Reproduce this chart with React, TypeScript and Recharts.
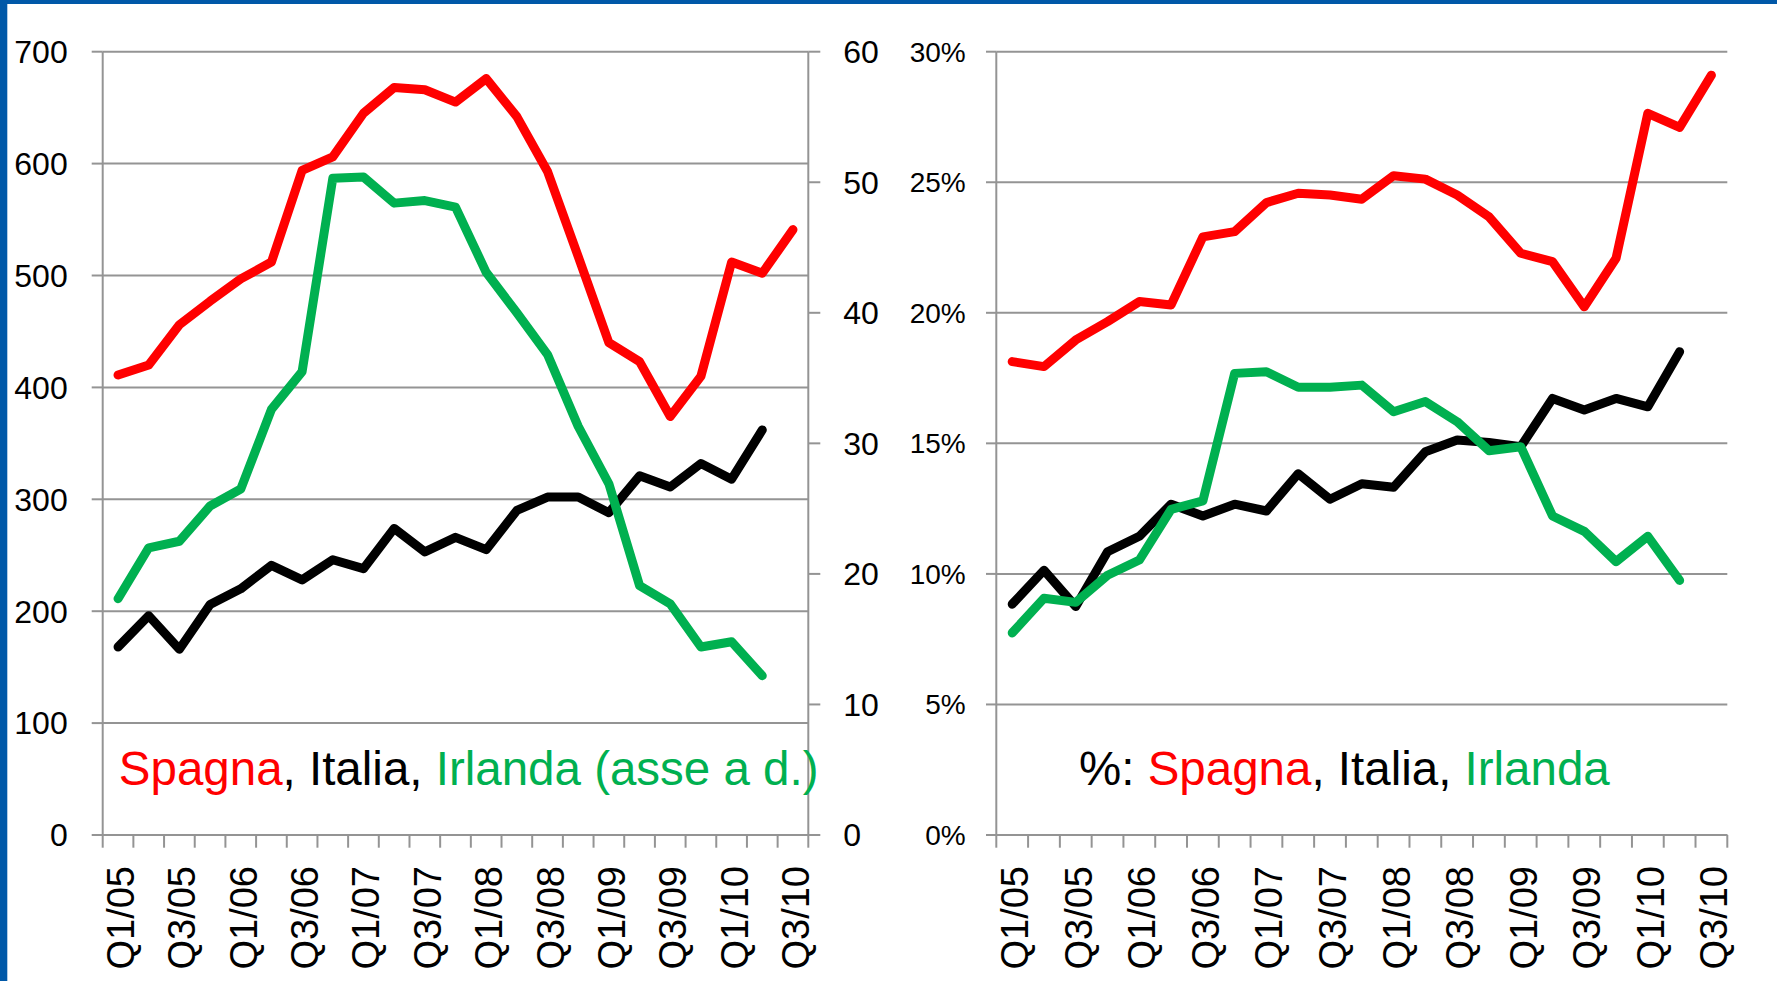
import React from 'react';
import { LineChart, Line, XAxis, YAxis, CartesianGrid } from 'recharts';

const quarters = ['Q1/05','Q2/05','Q3/05','Q4/05','Q1/06','Q2/06','Q3/06','Q4/06','Q1/07','Q2/07','Q3/07','Q4/07','Q1/08','Q2/08','Q3/08','Q4/08','Q1/09','Q2/09','Q3/09','Q4/09','Q1/10','Q2/10','Q3/10'];

// Left chart: stock (Spagna, Italia on left axis; Irlanda on right axis)
const spagnaStock = [411,420,456,477,497,512,594,606,645,668,666,655,676,642,593,517,440,423,374,410,512,502,541];
const italiaStock = [168,196,166,206,220,241,228,246,238,274,253,266,255,290,302,302,288,321,311,332,318,362,null];
const irlandaStock = [18.1,22.0,22.5,25.2,26.5,32.6,35.5,50.3,50.4,48.4,48.6,48.1,43.1,40.0,36.8,31.3,26.9,19.1,17.7,14.4,14.8,12.2,null];

// Right chart: percentages
const spagnaPct = [18.13,17.94,18.96,19.66,20.43,20.3,22.91,23.11,24.22,24.58,24.51,24.35,25.25,25.12,24.51,23.68,22.28,21.96,20.23,22.09,27.64,27.1,29.1];
const italiaPct = [8.84,10.14,8.75,10.85,11.44,12.67,12.22,12.67,12.41,13.84,12.86,13.45,13.32,14.68,15.13,15.03,14.87,16.72,16.28,16.72,16.4,18.51,null];
const irlandaPct = [7.74,9.07,8.91,9.95,10.53,12.47,12.8,17.68,17.74,17.15,17.15,17.23,16.21,16.6,15.83,14.72,14.87,12.22,11.63,10.47,11.44,9.75,null];

const leftTicks = [0,100,200,300,400,500,600,700];
const rightTicks = [0,10,20,30,40,50,60];
const pctTicks = [0,5,10,15,20,25,30];

const leftData = quarters.map((q, i) => ({ q, spagna: spagnaStock[i], italia: italiaStock[i], irlanda: irlandaStock[i] }));
const rightData = quarters.map((q, i) => ({ q, spagna: spagnaPct[i], italia: italiaPct[i], irlanda: irlandaPct[i] }));

const FONT = '"Liberation Sans", Arial, sans-serif';
const GRID = '#949494';
const RED = '#FF0000';
const GREEN = '#00B050';
const BLACK = '#000000';
const BLUE = '#0058A8';

const H = 981;
const TOP = 51.7;
const BOTTOM_AX = 146;

const makeXTick = (bandWidth: number) => (props: any) => {
  const { x, y, payload } = props;
  const i = quarters.indexOf(payload.value);
  const half = bandWidth / 2;
  return (
    <g>
      <line x1={x - half} x2={x - half} y1={y} y2={y + 12.7} stroke={GRID} strokeWidth={2} />
      {i === quarters.length - 1 && (
        <line x1={x + half} x2={x + half} y1={y} y2={y + 12.7} stroke={GRID} strokeWidth={2} />
      )}
      {i % 2 === 0 && (
        <text
          transform={`translate(${x + 16},${y + 31}) rotate(-90)`}
          textAnchor="end"
          fontSize={38}
          fontFamily={FONT}
          fill="#000"
        >
          {payload.value}
        </text>
      )}
    </g>
  );
};

const LeftChart = () => {
  const width = 880;
  const yLeftW = 102.7;
  const yRightW = 71.7;
  const band = (width - yLeftW - yRightW) / quarters.length;
  return (
    <LineChart width={width} height={H} data={leftData} margin={{ top: TOP, right: 0, bottom: 0, left: 0 }}>
      <CartesianGrid yAxisId="l" vertical={false} stroke={GRID} strokeWidth={2} />
      <XAxis
        dataKey="q"
        scale="band"
        height={BOTTOM_AX}
        interval={0}
        tickLine={false}
        tickSize={0}
        tickMargin={0}
        axisLine={{ stroke: GRID, strokeWidth: 2 }}
        tick={makeXTick(band)}
      />
      <YAxis
        yAxisId="l"
        domain={[0, 700]}
        ticks={leftTicks}
        width={yLeftW}
        axisLine={{ stroke: GRID, strokeWidth: 2 }}
        tickLine={{ stroke: GRID, strokeWidth: 2 }}
        tickSize={11}
        tickMargin={24}
        tick={{ fill: '#000', fontSize: 32, fontFamily: FONT }}
      />
      <YAxis
        yAxisId="r"
        orientation="right"
        domain={[0, 60]}
        ticks={rightTicks}
        width={yRightW}
        axisLine={{ stroke: GRID, strokeWidth: 2 }}
        tickLine={{ stroke: GRID, strokeWidth: 2 }}
        tickSize={12}
        tickMargin={23}
        tick={{ fill: '#000', fontSize: 32, fontFamily: FONT }}
      />
      <Line yAxisId="l" type="linear" dataKey="spagna" stroke={RED} strokeWidth={9} dot={false} strokeLinecap="round" strokeLinejoin="round" isAnimationActive={false} />
      <Line yAxisId="l" type="linear" dataKey="italia" stroke={BLACK} strokeWidth={9} dot={false} strokeLinecap="round" strokeLinejoin="round" isAnimationActive={false} />
      <Line yAxisId="r" type="linear" dataKey="irlanda" stroke={GREEN} strokeWidth={9} dot={false} strokeLinecap="round" strokeLinejoin="round" isAnimationActive={false} />
    </LineChart>
  );
};

const RightChart = () => {
  const width = 897;
  const yLeftW = 116.3;
  const rightM = 49.7;
  const band = (width - yLeftW - rightM) / quarters.length;
  return (
    <LineChart width={width} height={H} data={rightData} margin={{ top: TOP, right: rightM, bottom: 0, left: 0 }}>
      <CartesianGrid yAxisId="p" vertical={false} stroke={GRID} strokeWidth={2} />
      <XAxis
        dataKey="q"
        scale="band"
        height={BOTTOM_AX}
        interval={0}
        tickLine={false}
        tickSize={0}
        tickMargin={0}
        axisLine={{ stroke: GRID, strokeWidth: 2 }}
        tick={makeXTick(band)}
      />
      <YAxis
        yAxisId="p"
        domain={[0, 30]}
        ticks={pctTicks}
        width={yLeftW}
        tickFormatter={(v: number) => `${v}%`}
        axisLine={{ stroke: GRID, strokeWidth: 2 }}
        tickLine={{ stroke: GRID, strokeWidth: 2 }}
        tickSize={10.3}
        tickMargin={20.3}
        tick={{ fill: '#000', fontSize: 28, fontFamily: FONT }}
      />
      <Line yAxisId="p" type="linear" dataKey="spagna" stroke={RED} strokeWidth={9} dot={false} strokeLinecap="round" strokeLinejoin="round" isAnimationActive={false} />
      <Line yAxisId="p" type="linear" dataKey="italia" stroke={BLACK} strokeWidth={9} dot={false} strokeLinecap="round" strokeLinejoin="round" isAnimationActive={false} />
      <Line yAxisId="p" type="linear" dataKey="irlanda" stroke={GREEN} strokeWidth={9} dot={false} strokeLinecap="round" strokeLinejoin="round" isAnimationActive={false} />
    </LineChart>
  );
};

export default function App() {
  return (
    <div style={{ position: 'absolute', left: 0, top: 0, width: 1777, height: 981, background: '#fff', overflow: 'hidden' }}>
      <div style={{ position: 'absolute', left: 0, top: 0 }}>
        <LeftChart />
      </div>
      <div style={{ position: 'absolute', left: 880, top: 0 }}>
        <RightChart />
      </div>
      <svg width={1777} height={981} style={{ position: 'absolute', left: 0, top: 0, pointerEvents: 'none' }}>
        <rect x={0} y={0} width={1777} height={4} fill={BLUE} />
        <rect x={0} y={0} width={7.3} height={981} fill={BLUE} />
        <text x={118.8} y={785} fontSize={47.5} fontFamily={FONT} fill={BLACK}>
          <tspan fill={RED}>{'Spagna'}</tspan>
          <tspan fill={BLACK}>{', Italia, '}</tspan>
          <tspan fill={GREEN}>{'Irlanda (asse a d.)'}</tspan>
        </text>
        <text x={1079} y={785} fontSize={47.5} fontFamily={FONT} fill={BLACK}>
          <tspan fill={BLACK}>{'%: '}</tspan>
          <tspan fill={RED}>{'Spagna'}</tspan>
          <tspan fill={BLACK}>{', Italia, '}</tspan>
          <tspan fill={GREEN}>{'Irlanda'}</tspan>
        </text>
      </svg>
    </div>
  );
}
